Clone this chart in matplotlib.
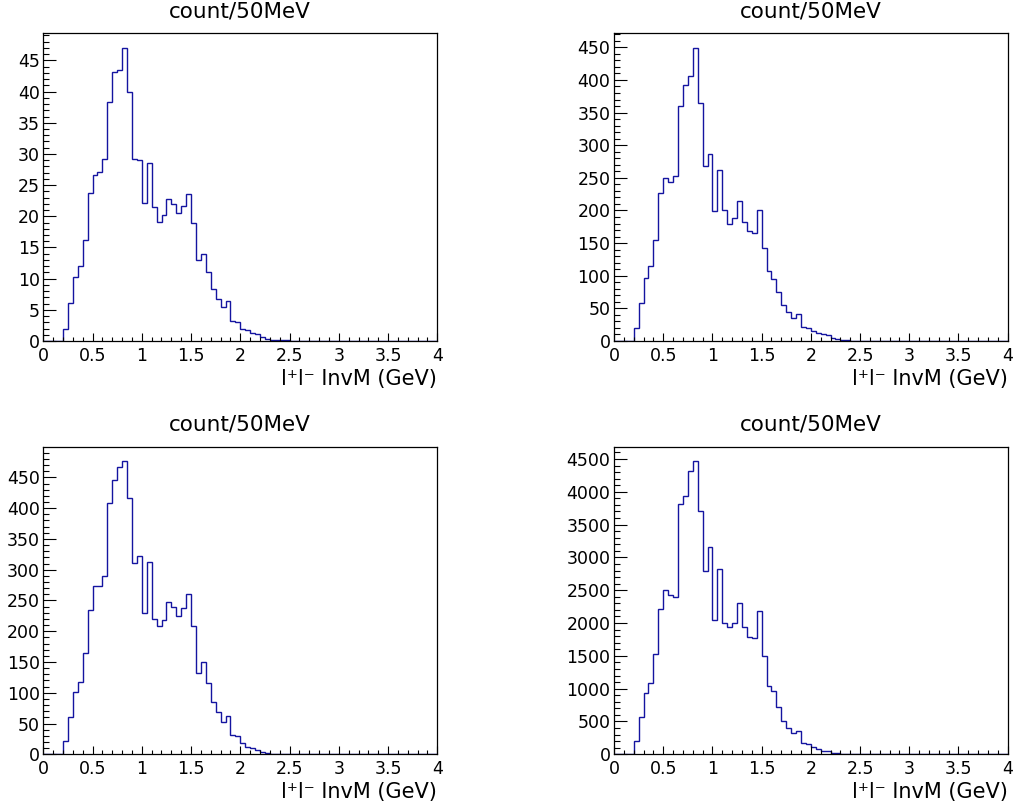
import numpy as np
import matplotlib
matplotlib.use("Agg")
import matplotlib.pyplot as plt
from matplotlib.ticker import MultipleLocator, FuncFormatter

# ---------------- data ----------------
n_bins = 80
x_min, x_max = 0.0, 4.0

counts_1 = [0, 0, 0, 0, 2.0, 6.1, 10.2, 12.1, 16.2, 23.7,
            26.6, 27.1, 29.2, 38.3, 43.2, 43.5, 47.0, 39.9, 29.2, 29.1,
            22.1, 28.6, 21.5, 19.1, 20.2, 22.8, 22.0, 20.6, 21.7, 23.5,
            18.9, 13.0, 14.0, 11.1, 8.3, 6.7, 5.5, 6.4, 3.2, 3.0,
            2.0, 1.7, 1.3, 1.2, 0.7, 0.4, 0.2, 0.2, 0.1, 0.1,
            0.05, 0, 0, 0, 0, 0, 0, 0, 0, 0,
            0, 0, 0, 0, 0, 0, 0, 0, 0, 0,
            0, 0, 0, 0, 0, 0, 0, 0, 0, 0]

counts_2 = [0, 0, 0, 0, 20, 58, 96, 115, 154, 226,
            250, 244, 253, 360, 392, 406, 449, 364, 268, 287,
            199, 262, 200, 179, 188, 214, 182, 169, 166, 201,
            142, 108, 95, 75, 55, 45, 36, 41, 22, 20,
            15, 12, 10, 9, 5, 3, 2, 1, 0.5, 0.5,
            0, 0, 0, 0, 0, 0, 0, 0, 0, 0,
            0, 0, 0, 0, 0, 0, 0, 0, 0, 0,
            0, 0, 0, 0, 0, 0, 0, 0, 0, 0]

counts_3 = [0, 0, 0, 0, 21, 61, 102, 118, 165, 235,
            273, 273, 290, 408, 446, 467, 476, 417, 311, 322,
            230, 313, 220, 209, 218, 248, 239, 225, 237, 261,
            208, 132, 150, 116, 85, 68, 52, 62, 31, 29,
            18, 12, 10, 7, 4, 1.6, 1, 0.5, 0.3, 0,
            0, 0, 0, 0, 0, 0, 0, 0, 0, 0,
            0, 0, 0, 0, 0, 0, 0, 0, 0, 0,
            0, 0, 0, 0, 0, 0, 0, 0, 0, 0]

counts_4 = [0, 0, 0, 0, 208, 564, 940, 1093, 1535, 2211,
            2501, 2420, 2394, 3808, 3935, 4321, 4464, 3711, 2791, 3157,
            2049, 2816, 2008, 1947, 1998, 2313, 1937, 1795, 1769, 2176,
            1502, 1047, 960, 727, 508, 397, 320, 348, 178, 158,
            107, 76, 56, 46, 25, 15, 10, 5, 3, 2,
            0, 0, 0, 0, 0, 0, 0, 0, 0, 0,
            0, 0, 0, 0, 0, 0, 0, 0, 0, 0,
            0, 0, 0, 0, 0, 0, 0, 0, 0, 0]

title_text = "count/50MeV"
xlabel_text = "l\u207al\u207b InvM (GeV)"

# y tick steps (major, minor) per panel
y_steps = [(5, 1), (50, 10), (50, 10), (500, 100)]

# ---------------- figure ----------------
plt.rcParams["font.family"] = ["DejaVu Sans"]
fig = plt.figure(figsize=(10.14, 8.09), dpi=100)
W, H = 1014.0, 809.0

# axes boxes in pixels: (left, right, top, bottom)
boxes = [(43.3, 437.3, 33.3, 341.0),
         (614.0, 1007.7, 33.3, 341.0),
         (43.3, 437.3, 446.7, 754.3),
         (614.0, 1007.7, 446.7, 754.3)]

edges = np.linspace(x_min, x_max, n_bins + 1)
line_color = "#1414a0"

for counts, (maj, mnr), (l, r, t, b) in zip([counts_1, counts_2, counts_3, counts_4], y_steps, boxes):
    ax = fig.add_axes([l / W, (H - b) / H, (r - l) / W, (b - t) / H])
    vals = np.asarray(counts, dtype=float)
    ax.stairs(vals, edges, color=line_color, linewidth=1.0, baseline=0)
    ax.set_xlim(x_min, x_max)
    ax.set_ylim(0, 1.05 * vals.max())

    ax.xaxis.set_major_locator(MultipleLocator(0.5))
    ax.xaxis.set_minor_locator(MultipleLocator(0.1))
    ax.yaxis.set_major_locator(MultipleLocator(maj))
    ax.yaxis.set_minor_locator(MultipleLocator(mnr))
    fmt = FuncFormatter(lambda v, p: f"{v:g}")
    ax.xaxis.set_major_formatter(fmt)
    ax.yaxis.set_major_formatter(fmt)

    ax.tick_params(axis="x", which="major", direction="in", length=6, width=0.8,
                   labelsize=12.5, pad=4, top=False)
    ax.tick_params(axis="x", which="minor", direction="in", length=3, width=0.8, top=False)
    ax.tick_params(axis="y", which="major", direction="in", length=9, width=0.8,
                   labelsize=12.5, pad=2.5, right=False)
    ax.tick_params(axis="y", which="minor", direction="in", length=4.5, width=0.8, right=False)

    for sp in ax.spines.values():
        sp.set_linewidth(0.9)
        sp.set_color("black")

    ax.set_title(title_text, fontsize=15.5, pad=11.5)
    ax.set_xlabel(xlabel_text, fontsize=15)
    ax.xaxis.label.set_horizontalalignment("right")
    ax.xaxis.label.set_verticalalignment("center")
    ax.xaxis.set_label_coords(1.0, -38.0 / (b - t))

fig.savefig("out.png", dpi=100)
